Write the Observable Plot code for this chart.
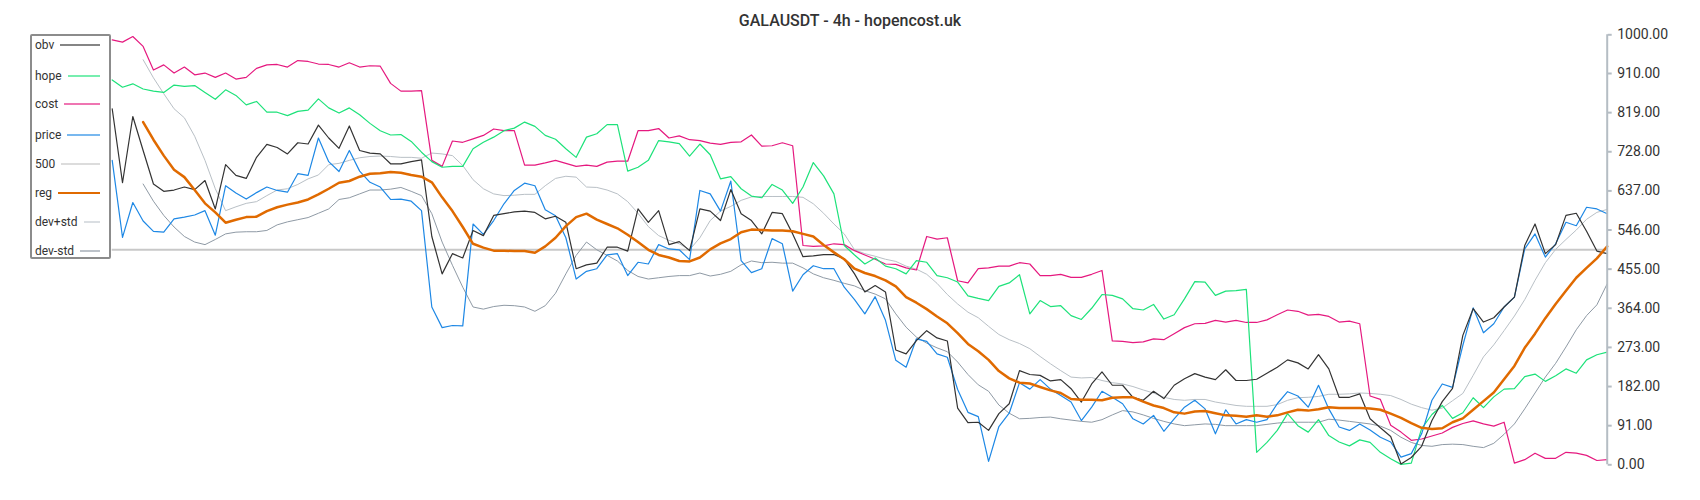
<!DOCTYPE html>
<html>
<head>
<meta charset="utf-8">
<script src="https://cdn.jsdelivr.net/npm/d3@7"></script>
<script src="https://cdn.jsdelivr.net/npm/@observablehq/plot@0.6"></script>
<style>
  html, body { margin: 0; padding: 0; background: #fff; }
  #wrap { position: relative; width: 1700px; height: 500px; overflow: hidden; font-family: Roboto, "Noto Sans", sans-serif; }
  #title { position: absolute; left: 0; top: 11px; width: 1700px; text-align: center; font-size: 16px; line-height: 20px; font-weight: 500; color: #333; }
  #legend { position: absolute; left: 30px; top: 34px; width: 81px; height: 225px; box-sizing: border-box; border: 2px solid #8c8c8c; border-radius: 2px; background: #fff; }
  .row { position: absolute; left: 3px; right: 9px; height: 20px; display: flex; align-items: center; font-size: 12px; color: #333; }
  .row .sw { flex: 1; margin-left: 6px; }
  svg { position: absolute; left: 0; top: 0; }
</style>
</head>
<body>
<div id="wrap">
  <div id="chart"></div>
  <div id="title">GALAUSDT - 4h - hopencost.uk</div>
  <div id="legend"></div>
</div>
<script>
const title = "GALAUSDT - 4h - hopencost.uk";
const N = 146;

const obv = [828,656,810,731,653,636,639,646,640,661,
 595,698,673,666,715,745,738,723,749,746,
 790,760,736,788,731,725,723,700,700,705,
 709,531,444,491,481,545,533,580,584,588,
 590,587,572,578,564,456,465,469,506,506,
 497,595,564,591,512,519,498,595,590,568,
 640,584,568,537,587,584,537,484,486,489,
 489,479,444,402,417,402,267,258,289,312,
 295,288,132,98,99,80,119,142,219,210,
 208,195,198,177,146,188,216,185,185,157,
 150,171,154,185,200,212,204,198,221,196,
 196,199,213,227,244,237,223,256,223,157,
 157,165,107,86,66,2,17,43,103,147,
 178,301,363,332,342,367,390,510,560,491,
 512,580,585,543,497,491];

const hope = [895,878,886,874,869,866,883,880,882,866,
 850,872,859,837,845,820,820,812,822,825,
 851,830,818,830,814,794,777,767,768,752,
 727,705,692,694,694,735,750,762,777,783,
 797,787,766,757,735,715,762,770,791,791,
 683,692,708,754,751,747,718,746,721,665,
 670,642,625,621,652,639,608,646,703,672,
 630,510,488,467,481,462,456,444,475,471,
 440,435,425,393,387,382,415,423,442,351,
 382,368,370,347,338,364,396,394,386,363,
 360,373,339,349,386,426,425,394,404,405,
 408,29,52,80,119,91,76,105,68,53,
 44,58,52,29,14,1,4,84,117,138,
 108,121,156,133,158,176,177,205,211,194,
 207,223,213,244,256,262];

const cost = [988,983,996,973,918,930,911,925,907,911,
 901,911,897,901,922,930,931,925,940,938,
 932,931,925,935,925,928,927,887,869,869,
 870,708,694,753,750,758,766,781,777,777,
 697,697,702,708,701,694,697,694,704,706,
 706,777,777,782,760,765,756,754,748,745,
 750,751,767,741,742,749,742,510,508,509,
 514,512,498,488,478,467,466,458,453,531,
 525,528,428,423,456,458,462,462,470,467,
 440,440,443,436,436,443,452,288,287,284,
 286,293,291,305,319,328,329,336,332,336,
 331,331,337,349,360,357,348,350,345,332,
 334,328,160,152,92,76,57,60,67,74,
 87,96,102,95,90,99,4,12,27,15,
 15,29,27,22,10,12];

const price = [708,529,610,567,543,541,572,576,581,591,
 534,649,632,618,633,646,638,634,677,673,
 760,705,682,731,683,657,646,617,618,613,
 591,367,319,324,323,560,536,568,607,638,
 655,649,593,579,528,432,450,456,488,491,
 440,471,467,512,502,500,477,638,630,590,
 660,475,447,456,526,514,404,442,463,456,
 456,413,384,351,391,336,243,227,293,287,
 258,250,175,122,112,8,89,120,191,176,
 198,176,161,146,103,134,171,157,142,107,
 95,115,78,107,134,150,130,72,128,95,
 105,99,105,142,170,160,134,185,130,88,
 80,95,81,64,53,18,26,72,150,188,
 180,278,365,307,328,367,390,502,537,483,
 514,564,556,599,595,584];

const level500 = [500];

const reg = [null,null,null,797,756,719,686,669,639,608,
 587,563,570,576,577,590,599,605,610,617,
 629,642,656,660,670,677,678,681,679,674,
 670,657,622,590,553,514,505,498,498,497,
 497,493,508,528,555,576,584,570,560,550,
 535,518,500,488,482,474,473,482,501,515,
 525,541,547,546,545,545,543,537,531,511,
 494,478,456,446,439,429,415,390,377,362,
 345,329,306,281,264,244,218,201,191,189,
 181,173,167,153,151,151,150,156,157,157,
 147,138,132,122,119,124,125,120,115,114,
 112,115,112,115,122,128,126,129,134,132,
 132,132,131,128,119,109,97,86,83,85,
 99,108,128,148,168,199,230,272,305,341,
 374,405,435,458,480,508];

const devPlus = [null,null,null,942,900,863,828,807,764,708,
 642,591,600,608,612,626,639,642,652,665,
 674,698,701,708,714,717,718,717,715,715,
 713,725,723,719,696,663,642,630,626,627,
 629,629,649,666,671,669,646,645,639,630,
 612,585,554,533,522,514,500,528,568,590,
 601,615,623,624,624,624,624,622,607,585,
 560,537,500,491,485,478,473,462,455,443,
 422,396,374,355,342,322,303,291,282,270,
 252,235,219,204,202,203,196,191,188,182,
 174,167,157,152,150,152,152,146,142,138,
 136,136,136,140,150,156,157,159,164,164,
 165,167,166,164,161,152,141,133,127,132,
 149,166,208,251,279,312,346,384,429,470,
 501,524,546,571,587,594];

const devMinus = [null,null,null,653,613,580,553,531,518,512,
 524,537,541,542,542,545,558,565,570,575,
 585,595,617,621,630,639,639,641,645,636,
 626,584,518,464,413,367,362,368,371,370,
 367,357,370,399,444,487,518,500,487,474,
 452,438,432,435,438,440,440,446,439,443,
 450,465,474,470,471,469,469,458,444,435,
 429,422,416,405,397,386,351,320,297,283,
 272,263,239,210,186,171,139,120,107,108,
 110,111,107,104,101,99,105,116,126,123,
 116,108,101,95,91,93,95,94,91,91,
 91,91,94,97,99,99,99,99,106,104,
 101,98,95,90,80,64,52,45,43,47,
 48,47,43,40,50,71,95,130,167,204,
 236,274,314,347,372,421];

const yTicks = [0, 91, 182, 273, 364, 455, 546, 637, 728, 819, 910, 1000];
const legendLabels = ["obv", "hope", "cost", "price", "500", "reg", "dev+std", "dev-std"];
const legendColors = ["#333333", "#1de27a", "#e5197f", "#1e88e5", "#c4c4c4", "#e06a00", "#c2c8ce", "#8f9aa5"];
const legendWidths = [1.5, 1.5, 1.5, 1.5, 1.5, 2.5, 1.5, 1.5];
const legendCenters = [45, 76, 104, 135, 164, 193, 222, 251];

const chart = Plot.plot({
  width: 1700,
  height: 500,
  marginLeft: 111.7,
  marginRight: 93.3,
  marginTop: 34.3,
  marginBottom: 35.7,
  style: { background: "transparent", fontFamily: "Roboto, sans-serif", color: "#333" },
  x: { domain: [0, N - 1], axis: null },
  y: { domain: [0, 1000], axis: null },
  marks: [
    Plot.ruleY(level500, { stroke: "#c8c8c8", strokeWidth: 2 }),
    Plot.lineY(devPlus, { stroke: "#b9c0c6", strokeWidth: 1 }),
    Plot.lineY(devMinus, { stroke: "#8f9aa5", strokeWidth: 1 }),
    Plot.lineY(cost, { stroke: "#e5197f", strokeWidth: 1.2 }),
    Plot.lineY(hope, { stroke: "#1de27a", strokeWidth: 1.2 }),
    Plot.lineY(price, { stroke: "#1e88e5", strokeWidth: 1.2 }),
    Plot.lineY(obv, { stroke: "#333333", strokeWidth: 1.2 }),
    Plot.lineY(reg, { stroke: "#e06a00", strokeWidth: 2.5 }),
    Plot.ruleX([N - 1], { stroke: "#b5bdc4", strokeWidth: 2 }),
    Plot.axisY(yTicks, {
      anchor: "right",
      tickFormat: d3.format(".2f"),
      tickSize: 4,
      tickPadding: 6,
      fontSize: 14,
      stroke: "#b5bdc4",
      strokeWidth: 2,
      label: null
    })
  ]
});
document.getElementById("chart").appendChild(chart);
chart.querySelectorAll('[aria-label="y-axis tick label"]').forEach(g => g.setAttribute("fill", "#333"));

const legend = document.getElementById("legend");
legendLabels.forEach((lab, i) => {
  const row = document.createElement("div");
  row.className = "row";
  row.style.top = (legendCenters[i] - 36 - 10) + "px";
  const t = document.createElement("span");
  t.textContent = lab;
  const sw = document.createElement("span");
  sw.className = "sw";
  sw.style.height = legendWidths[i] + "px";
  sw.style.background = legendColors[i];
  sw.style.opacity = i === 5 ? "1" : "0.6";
  row.appendChild(t);
  row.appendChild(sw);
  legend.appendChild(row);
});
</script>
</body>
</html>
